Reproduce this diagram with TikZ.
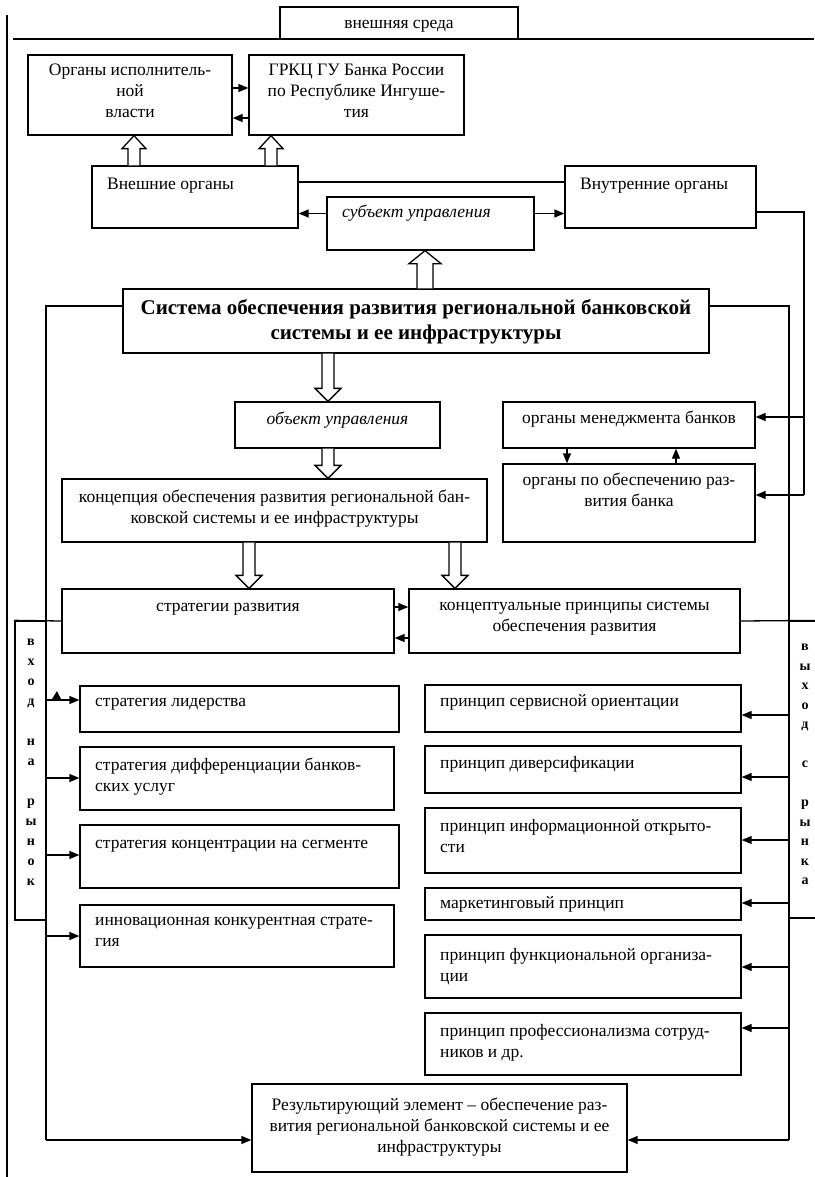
\documentclass[tikz,border=0pt]{standalone}
\usepackage{fontspec}
\setmainfont{Liberation Serif}
\usetikzlibrary{arrows.meta,calc}
\tikzset{
  box/.style={draw, line width=1.3pt, inner sep=0pt},
  ln/.style={line width=1.3pt},
  arr/.style={line width=1.3pt, -{Triangle[length=10pt,width=8pt]}},
  tx/.style={inner sep=0pt, font=\fontsize{17.5}{21}\selectfont},
  txc/.style={tx, anchor=north, align=center},
  txl/.style={tx, anchor=north west, align=left},
  lett/.style={inner sep=0pt, anchor=north, align=center, font=\fontsize{14}{20}\selectfont\bfseries},
}
% name, x1, y1, x2, y2, align (c/l), first-line y, text
\newcommand{\bx}[8]{%
  \node[box, minimum width={(#4-#2)*1pt}, minimum height={(#5-#3)*1pt}] (#1) at ({(#2+#4)/2},{(#3+#5)/2}) {};
  \ifx c#6
    \node[txc] (#1-t) at ({(#2+#4)/2},{#7-11}) {\strut #8};
  \else
    \node[txl] (#1-t) at ({#2+15},{#7-11}) {\strut #8};
  \fi
}
% hollow block arrow: from, to (y used), half shaft, half head
\newcommand{\barr}[4]{%
  \draw[ln, fill=white, line join=miter] let \p1=(#1), \p2=(#2), \n1={\y2-13pt*sign(\y2-\y1)} in
    (\x1-#3pt,\y1) -- (\x1-#3pt,\n1) -- (\x1-#4pt,\n1) -- (\x1,\y2) -- (\x1+#4pt,\n1) -- (\x1+#3pt,\n1) -- (\x1+#3pt,\y1);
}
\begin{document}
\begin{tikzpicture}[x=1pt,y=-1pt]
\useasboundingbox (0,0) rectangle (814,1177);

% outer frame lines
\coordinate (B1) at (7,15);
\coordinate (B2) at (7,1177);
\draw[ln] (B1) -- (B2);

\bx{env}{280}{7}{518}{39}{c}{25}{внешняя среда}
\coordinate (H1) at (13,39);
\coordinate (H2) at (814,39);
\draw[ln] (H1) -- (H2);

\bx{oiv}{28}{55}{232}{135}{c}{72}{Органы исполнитель-\\ной\\власти}
\bx{grkc}{249}{55}{464}{135}{c}{72}{ГРКЦ ГУ Банка России\\по Республике Ингуше-\\тия}
\bx{ext}{92}{166}{298}{228}{l}{186}{Внешние органы}
\bx{int}{565}{166}{756}{228}{l}{186}{Внутренние органы}
\bx{subj}{327}{197}{534}{250}{l}{214}{\itshape субъект управления}

\node[box, minimum width=586pt, minimum height=64pt] (main) at (416,321) {};
\node[inner sep=0pt, anchor=north, align=center, font=\fontsize{21}{25}\selectfont\bfseries] (main-t) at (416,297)
  {\strut Система обеспечения развития региональной банковской\\системы и ее инфраструктуры};

\bx{obj}{235}{402}{440}{448}{c}{421}{\itshape объект управления}
\bx{mgmt}{503}{402}{755}{448}{c}{420}{органы менеджмента банков}
\bx{devorg}{503}{464}{755}{542}{c}{482}{органы по обеспечению раз-\\вития банка}
\bx{conc}{62}{479}{487}{542}{c}{499}{концепция обеспечения развития региональной бан-\\ковской системы и ее инфраструктуры}
\bx{strat}{62}{589}{394}{653}{c}{608}{стратегии развития}
\bx{princ}{409}{589}{740}{653}{c}{607}{концептуальные принципы системы\\обеспечения развития}

\bx{s1}{80}{686}{399}{732}{l}{703}{стратегия лидерства}
\bx{s2}{80}{747}{394}{810}{l}{767}{стратегия дифференциации банков-\\ских услуг}
\bx{s3}{80}{825}{399}{888}{l}{845}{стратегия концентрации на сегменте}
\bx{s4}{80}{905}{394}{967}{l}{922}{инновационная конкурентная страте-\\гия}

\bx{p1}{425}{685}{741}{732}{l}{703}{принцип сервисной ориентации}
\bx{p2}{425}{746}{741}{793}{l}{765}{принцип диверсификации}
\bx{p3}{425}{808}{741}{873}{l}{828}{принцип информационной открыто-\\сти}
\bx{p4}{425}{888}{741}{920}{l}{905}{маркетинговый принцип}
\bx{p5}{425}{935}{741}{998}{l}{957}{принцип функциональной организа-\\ции}
\bx{p6}{425}{1013}{741}{1075}{l}{1033}{принцип профессионализма сотруд-\\ников и др.}

\bx{res}{252}{1084}{627}{1172}{c}{1107}{Результирующий элемент – обеспечение раз-\\вития региональной банковской системы и ее\\инфраструктуры}

% side boxes
\node[box, minimum width=31pt, minimum height=299pt] (vin) at (30.5,770.5) {};
\node[lett] (vin-t) at (31,631) {\strut в\\х\\о\\д\\\strut\\н\\а\\\strut\\р\\ы\\н\\о\\к};
\node[box, minimum width=31pt, minimum height=297pt] (vout) at (804.5,769.5) {};
\node[lett, font=\fontsize{14}{19.5}\selectfont\bfseries] (vout-t) at (805,637) {\strut в\\ы\\х\\о\\д\\\strut\\с\\\strut\\р\\ы\\н\\к\\а};

% top arrows
\coordinate (a1) at ([yshift=7pt]oiv.east);
\draw[arr] (a1) -- (a1 -| grkc.west);
\coordinate (a2) at ([yshift=-23pt]grkc.west);
\draw[arr] (a2) -- (a2 -| oiv.east);
\barr{$(ext.north)+(-61,0)$}{oiv.south}{6}{12}
\barr{$(ext.north)+(76,0)$}{grkc.south}{6}{12}

\coordinate (c1) at ([yshift=15pt]ext.east);
\draw[ln] (c1) -- (c1 -| int.west);
\coordinate (c2) at ([yshift=10pt]subj.west);
\draw[arr] (c2) -- (c2 -| ext.east);
\coordinate (c3) at ([yshift=10pt]subj.east);
\draw[arr] (c3) -- (c3 -| int.west);

\barr{$(main.north)+(9,0)$}{subj.south}{8}{16}

% internal organs line
\coordinate (k1) at (804,212);
\coordinate (k2) at (804,495);
\coordinate (k3) at (804,417);
\draw[ln] ([yshift=-15pt]int.east) -- (k1) -- (k2);
\draw[arr] (k2) -- (k2 -| devorg.east);
\draw[arr] (k3) -- (k3 -| mgmt.east);

\draw[arr] ([xshift=-62pt]mgmt.south) -- ([xshift=-62pt]devorg.north);
\draw[arr] ([xshift=47pt]devorg.north) -- ([xshift=47pt]mgmt.south);

\barr{$(main.south)+(-88,0)$}{obj.north}{6}{13}
\barr{$(obj.south)+(-9.5,0)$}{conc.north}{6}{13}
\barr{$(conc.south)+(-25.5,0)$}{strat.north}{6}{13}
\barr{$(conc.south)+(180.5,0)$}{princ.north}{6}{13}

\coordinate (m1) at ([yshift=14pt]strat.east);
\draw[arr] (m1) -- (m1 -| princ.west);
\coordinate (m2) at ([yshift=-17pt]princ.west);
\draw[arr] (m2) -- (m2 -| strat.east);
\draw[ln] (strat.west) -- (vin.north west);
\draw[ln] (princ.east) -- (vout.north east);

% main feedback lines
\coordinate (R1) at (789,306);
\coordinate (R2) at (789,1140);
\coordinate (L1) at (46,306);
\coordinate (L2) at (46,1140);
\draw[ln] ([yshift=15pt]main.east) -- (R1) -- (R2);
\draw[arr] (R2) -- (R2 -| res.east);
\draw[ln] ([yshift=15pt]main.west) -- (L1) -- (L2);
\draw[arr] (L2) -- (L2 -| res.west);

\foreach \n/\yy in {1/700,2/778,3/855,4/936}{
  \coordinate (l\n) at (46,\yy);
  \draw[arr] (l\n) -- (l\n -| s\n.west);
}
\foreach \n/\yy in {1/715,2/777,3/840,4/903,5/967,6/1028}{
  \coordinate (r\n) at (789,\yy);
  \draw[arr] (r\n) -- (r\n -| p\n.east);
}
\fill (52,699) -- (57,691) -- (61,699) -- cycle;
\end{tikzpicture}
\end{document}
